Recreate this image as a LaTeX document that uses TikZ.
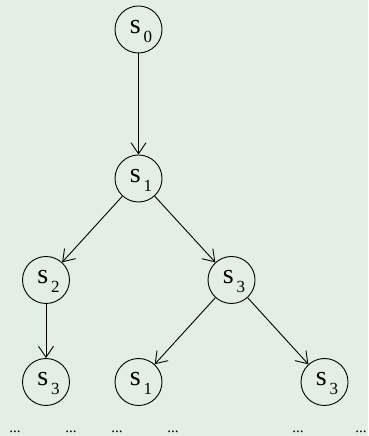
\documentclass[tikz,border=0pt]{standalone}
\usepackage{fontspec}
\setmainfont{Liberation Serif}
\usetikzlibrary{arrows.meta}
\definecolor{bgc}{RGB}{227,238,228}
\newcommand{\st}[1]{\kern5pt{\fontsize{28}{28}\selectfont s}\kern3pt\raisebox{-9pt}{\fontsize{17}{17}\selectfont #1}}
\begin{document}
\begin{tikzpicture}[x=1pt,y=1pt,
  state/.style={circle,draw,line width=0.9pt,minimum size=47pt,inner sep=0pt,text height=16pt,text depth=8pt},
  edge/.style={line width=0.9pt,-{Straight Barb[length=11pt,width=15pt,line width=0.9pt]}},
  dotlbl/.style={anchor=base,inner sep=0pt,font=\fontsize{15}{15}\selectfont}]
\fill[bgc] (0,0) rectangle (368,436);
\useasboundingbox (0,0) rectangle (368,436);
\node[state] (a) at (138.5,406.5) {\st{0}};
\node[state] (b) at (138.5,257.5) {\st{1}};
\node[state] (c) at (46,156) {\st{2}};
\node[state] (d) at (231.5,156) {\st{3}};
\node[state] (e) at (46,54) {\st{3}};
\node[state] (f) at (138.5,54) {\st{1}};
\node[state] (g) at (324.5,54) {\st{3}};
\draw[edge] (a) -- (b);
\draw[edge] (b) -- (c);
\draw[edge] (b) -- (d);
\draw[edge] (c) -- (e);
\draw[edge] (d) -- (f);
\draw[edge] (d) -- (g);
\node[dotlbl] (p1) at (15,3) {...};
\node[dotlbl] (p2) at (71,3) {...};
\node[dotlbl] (p3) at (117,3) {...};
\node[dotlbl] (p4) at (173,3) {...};
\node[dotlbl] (p5) at (298,3) {...};
\node[dotlbl] (p6) at (361,3) {...};
\end{tikzpicture}
\end{document}
